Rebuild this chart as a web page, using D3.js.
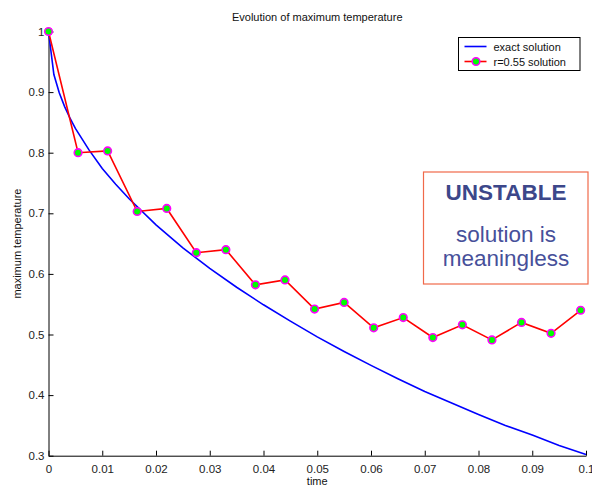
<!DOCTYPE html>
<html>
<head>
<meta charset="utf-8">
<script src="https://cdn.jsdelivr.net/npm/d3@7"></script>
<style>
  body { margin: 0; background: #fff; }
  svg { font-family: "Liberation Sans", Arial, sans-serif; }
  .tick text { fill: #222; font-size: 11.5px; }
</style>
</head>
<body>
<div id="chart"></div>
<script>
// exact solution
const exactTime = [0, 0.001, 0.002, 0.003, 0.004, 0.005, 0.0075, 0.01, 0.0125, 0.015, 0.02, 0.025,
  0.03, 0.035, 0.04, 0.045, 0.05, 0.055, 0.06, 0.065, 0.07, 0.075, 0.08, 0.085, 0.09, 0.095, 0.1];
const exactValue = [1, 0.929, 0.899, 0.876, 0.857, 0.840, 0.805, 0.774, 0.748, 0.724, 0.681, 0.643,
  0.609, 0.578, 0.549, 0.522, 0.496, 0.472, 0.449, 0.427, 0.406, 0.387, 0.368, 0.350, 0.334, 0.317, 0.302];

// r=0.55 explicit scheme, one marker per step
const stepTime = [0, 0.0055, 0.011, 0.0165, 0.022, 0.0275, 0.033, 0.0385, 0.044, 0.0495,
  0.055, 0.0605, 0.066, 0.0715, 0.077, 0.0825, 0.088, 0.0935, 0.099];
const stepValue = [1, 0.800, 0.803, 0.703, 0.708, 0.635, 0.640, 0.582, 0.590, 0.542,
  0.553, 0.511, 0.528, 0.495, 0.516, 0.491, 0.520, 0.502, 0.540];

const xTickValues = [0, 0.01, 0.02, 0.03, 0.04, 0.05, 0.06, 0.07, 0.08, 0.09, 0.1];
const xTickLabels = ['0', '0.01', '0.02', '0.03', '0.04', '0.05', '0.06', '0.07', '0.08', '0.09', '0.1'];
const yTickValues = [0.3, 0.4, 0.5, 0.6, 0.7, 0.8, 0.9, 1];
const yTickLabels = ['0.3', '0.4', '0.5', '0.6', '0.7', '0.8', '0.9', '1'];

const seriesNames = ['exact solution', 'r=0.55 solution'];
const titleText = 'Evolution of maximum temperature';
const xLabel = 'time';
const yLabel = 'maximum temperature';

const width = 592, height = 488;
const margin = {left: 48.5, right: 6, top: 31.5, bottom: 32.3};

const svg = d3.select('#chart').append('svg')
  .attr('width', width)
  .attr('height', height);

const xScale = d3.scaleLinear()
  .domain([0, 0.1])
  .range([margin.left, width - margin.right]);

const yScale = d3.scaleLinear()
  .domain([0.3, 1])
  .range([height - margin.bottom, margin.top]);

const xAxis = d3.axisBottom(xScale)
  .tickValues(xTickValues)
  .tickFormat((d, i) => xTickLabels[i])
  .tickSizeInner(-5)
  .tickSizeOuter(0)
  .tickPadding(6);

const yAxis = d3.axisLeft(yScale)
  .tickValues(yTickValues)
  .tickFormat((d, i) => yTickLabels[i])
  .tickSizeInner(-5)
  .tickSizeOuter(0)
  .tickPadding(4);

const xAxisG = svg.append('g')
  .attr('transform', `translate(0,${height - margin.bottom})`)
  .call(xAxis);

const yAxisG = svg.append('g')
  .attr('transform', `translate(${margin.left},0)`)
  .call(yAxis);

svg.selectAll('.domain').attr('stroke', '#000');
svg.selectAll('.tick line').attr('stroke', '#000');
xAxisG.selectAll('.tick text').attr('dy', '0.95em');

// title and axis labels
svg.append('text')
  .attr('x', (xScale.range()[0] + xScale.range()[1]) / 2)
  .attr('y', 21)
  .attr('text-anchor', 'middle')
  .attr('font-size', 11)
  .attr('fill', '#111')
  .text(titleText);

svg.append('text')
  .attr('x', (xScale.range()[0] + xScale.range()[1]) / 2)
  .attr('y', 485)
  .attr('text-anchor', 'middle')
  .attr('font-size', 11)
  .attr('fill', '#111')
  .text(xLabel);

svg.append('text')
  .attr('transform', `translate(21,${(yScale.range()[0] + yScale.range()[1]) / 2}) rotate(-90)`)
  .attr('text-anchor', 'middle')
  .attr('font-size', 11)
  .attr('fill', '#111')
  .text(yLabel);

// lines
const exactLine = d3.line()
  .x((d, i) => xScale(exactTime[i]))
  .y(d => yScale(d));

const stepLine = d3.line()
  .x((d, i) => xScale(stepTime[i]))
  .y(d => yScale(d));

svg.append('path')
  .attr('fill', 'none')
  .attr('stroke', '#0000ff')
  .attr('stroke-width', 1.6)
  .attr('d', exactLine(exactValue));

svg.append('path')
  .attr('fill', 'none')
  .attr('stroke', '#ff0000')
  .attr('stroke-width', 1.6)
  .attr('d', stepLine(stepValue));

svg.selectAll('.marker')
  .data(stepValue)
  .enter().append('circle')
  .attr('class', 'marker')
  .attr('cx', (d, i) => xScale(stepTime[i]))
  .attr('cy', d => yScale(d))
  .attr('r', 3.8)
  .attr('fill', '#00ff00')
  .attr('stroke', '#ff00ff')
  .attr('stroke-width', 1.6);

// legend
const legend = svg.append('g').attr('transform', 'translate(458.5,37.5)');
legend.append('rect')
  .attr('width', 121.5)
  .attr('height', 33)
  .attr('fill', '#fff')
  .attr('stroke', '#000')
  .attr('stroke-width', 1);

legend.append('line')
  .attr('x1', 6).attr('x2', 28)
  .attr('y1', 9).attr('y2', 9)
  .attr('stroke', '#0000ff').attr('stroke-width', 1.6);
legend.append('line')
  .attr('x1', 6).attr('x2', 28)
  .attr('y1', 24).attr('y2', 24)
  .attr('stroke', '#ff0000').attr('stroke-width', 1.6);
legend.append('circle')
  .attr('cx', 17.5).attr('cy', 24).attr('r', 3.8)
  .attr('fill', '#00ff00').attr('stroke', '#ff00ff').attr('stroke-width', 1.6);

legend.selectAll('.legend-text')
  .data(seriesNames)
  .enter().append('text')
  .attr('class', 'legend-text')
  .attr('x', 35)
  .attr('y', (d, i) => 13 + i * 15)
  .attr('font-size', 11)
  .attr('fill', '#111')
  .text(d => d);

// annotation box
const note = svg.append('g');
note.append('rect')
  .attr('x', 423.5).attr('y', 172)
  .attr('width', 164.5).attr('height', 112)
  .attr('fill', '#fff')
  .attr('stroke', '#f0694a')
  .attr('stroke-width', 1.2);

note.append('text')
  .attr('x', 506).attr('y', 200)
  .attr('text-anchor', 'middle')
  .attr('font-size', 22.5)
  .attr('font-weight', 'bold')
  .attr('fill', '#3c478a')
  .text('UNSTABLE');

note.append('text')
  .attr('x', 506).attr('y', 242)
  .attr('text-anchor', 'middle')
  .attr('font-size', 22.5)
  .attr('fill', '#47509a')
  .text('solution is');

note.append('text')
  .attr('x', 506).attr('y', 266)
  .attr('text-anchor', 'middle')
  .attr('font-size', 22.5)
  .attr('fill', '#47509a')
  .text('meaningless');
</script>
</body>
</html>
